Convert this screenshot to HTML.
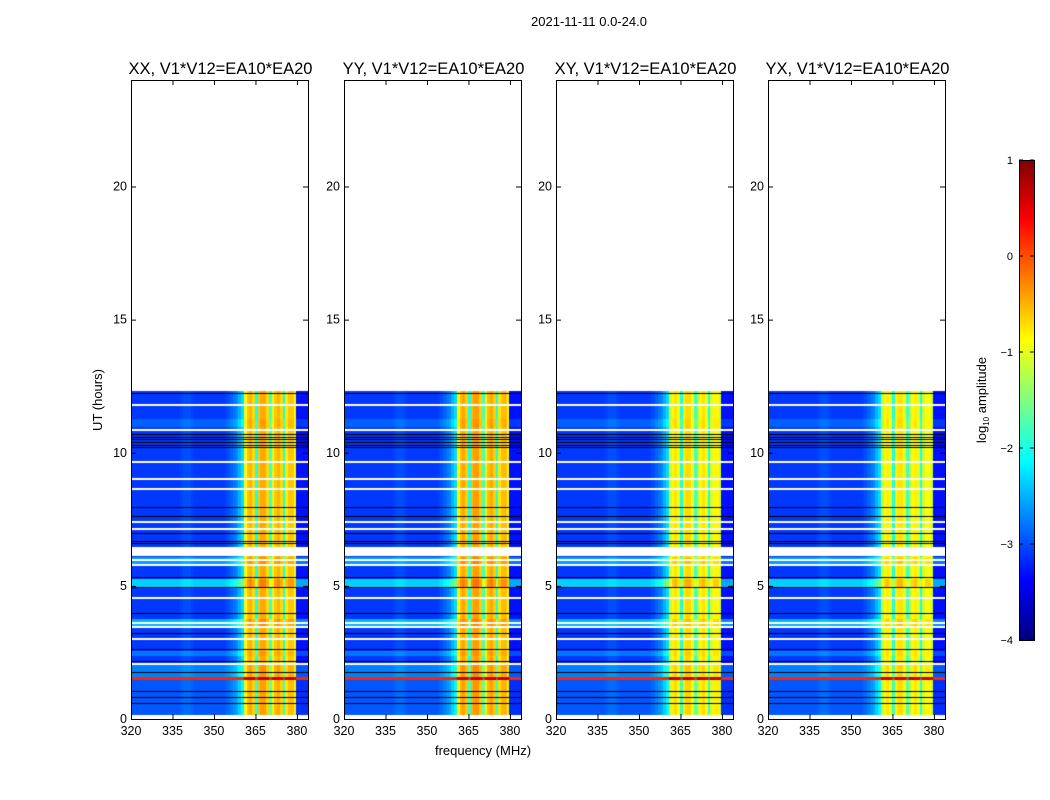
<!DOCTYPE html>
<html><head><meta charset="utf-8"><style>
body{margin:0;background:#fff;width:1050px;height:800px;overflow:hidden;font-family:"Liberation Sans",sans-serif}
#wrap{position:relative;width:1050px;height:800px}
canvas{position:absolute}
</style></head><body>
<div id="wrap">
<svg id="svg" width="1050" height="800" style="position:absolute;left:0;top:0"></svg>
</div>
<script>
// ---- data ----
const panelNames = ["XX, V1*V12=EA10*EA20","YY, V1*V12=EA10*EA20","XY, V1*V12=EA10*EA20","YX, V1*V12=EA10*EA20"];
const panelBandShift = [0, 0.05, -0.25, -0.3];
const freqStart = 320;            // MHz, 1 MHz bins
const freqLevel = [-3.1,-3.1,-3.1,-3.1,-3.1,-3.1,-3.1,-3.1,-3.1,-3.1,-3.1,-3.1,-3.1,-3.1,-3.1,-3.1,
 -3.1,-3.1,-3.05,-3.0,-3.0,-3.0,-3.05,-3.1,-3.1,-3.1,-3.1,-3.1,-3.1,-3.1,-3.1,-3.1,
 -3.1,-3.1,-3.05,-3.0,-2.9,-2.8,-2.7,-2.5,-2.3,-0.9,-0.6,-0.5,-0.7,-2.0,-0.6,-0.45,
 -0.45,-0.7,-1.8,-1.0,-0.6,-0.5,-0.7,-2.0,-0.8,-0.6,-0.6,-0.9,-3.3,-3.3,-3.3,-3.3];
const dataEndHour = 12.3;
const rowStep = 0.1;
const brightSegments = [[5.0,5.3,0.75],[3.5,3.75,0.6],[5.75,6.1,0.5],[2.4,2.6,0.3],[11.0,11.3,0.2],[1.6,2.1,0.35],[0,1.45,0.15]];
const redLine = [1.5,1.6];
const whiteLines = [0.1,2.07,3.0,3.45,3.6,4.54,5.78,5.97,7.15,7.4,8.63,9.0,9.65,10.85,11.8];
const whiteBlocks = [[0,0.15],[6.12,6.46]];
const blackLines = [0.6,0.83,1.05,1.77,2.18,2.63,3.22,4.0,4.96,5.33,6.6,6.7,7.0,7.62,7.96,10.2,10.3,10.4,10.5,10.6,10.7,12.25];
const yTicks = [0,5,10,15,20];
const xTicks = [320,335,350,365,380];
const cbTicks = [1,0,-1,-2,-3,-4];

// ---- layout ----
const panelX = [131,344,556,768], panelW = 177, panelTop = 80, panelBot = 719;
const yScale = h => panelBot - h/24*(panelBot-panelTop);
const xScale = (px0,f) => px0 + (f-320)/64*panelW;
const vmin=-4, vmax=1;
function jet(v){
  let t=(v-vmin)/(vmax-vmin); t=Math.max(0,Math.min(1,t));
  const c=x=>Math.max(0,Math.min(1,x));
  const r=c(1.5-Math.abs(4*t-3)), g=c(1.5-Math.abs(4*t-2)), b=c(1.5-Math.abs(4*t-1));
  return `rgb(${Math.round(r*255)},${Math.round(g*255)},${Math.round(b*255)})`;
}
const NS="http://www.w3.org/2000/svg";
const svg=document.getElementById('svg');
function el(tag,attrs,parent){const e=document.createElementNS(NS,tag);for(const k in attrs)e.setAttribute(k,attrs[k]);(parent||svg).appendChild(e);return e;}
function txt(x,y,s,size,anchor,parent){const t=el('text',{x:x,y:y,'font-size':size,'text-anchor':anchor||'middle','font-family':'Liberation Sans, sans-serif',fill:'#000'},parent);t.textContent=s;return t;}

const wrap=document.getElementById('wrap');
panelNames.forEach((name,p)=>{
  const x0=panelX[p];
  const cv=document.createElement('canvas');
  
  
  cv.width=panelW; cv.height=panelBot-panelTop;
  cv.style.left=x0+'px'; cv.style.top=panelTop+'px';
  wrap.insertBefore(cv,svg);
  const ctx=cv.getContext('2d');
  const nRows=Math.round(dataEndHour/rowStep);
  for(let r=0;r<nRows;r++){
    const t0=r*rowStep, t1=t0+rowStep;
    let off=0;
    brightSegments.forEach(s=>{if(t0>=s[0]-1e-6&&t0<s[1])off+=s[2];});
    const red = t0>=redLine[0]-1e-6 && t0<redLine[1];
    const yA=yScale(t1)-panelTop, yB=yScale(t0)-panelTop;
    for(let i=0;i<freqLevel.length;i++){
      const f=freqStart+i;
      const inBand=freqLevel[i]>-1.5;
      let v=freqLevel[i]+(inBand?panelBandShift[p]+off*0.3:off);
      if(red) v = inBand?0.7:0.2;
      ctx.fillStyle=jet(v);
      const xa=xScale(0,f), xb=xScale(0,f+1);
      ctx.fillRect(Math.floor(xa),Math.floor(yA),Math.ceil(xb-xa)+1,Math.ceil(yB-yA)+1);
    }
  }
  blackLines.forEach(h=>{ctx.fillStyle='#000';ctx.fillRect(0,Math.round(yScale(h)-panelTop),panelW,1);});
  whiteLines.forEach(h=>{ctx.fillStyle='#fff';ctx.fillRect(0,Math.round(yScale(h)-panelTop)-1,panelW,2);});
  whiteBlocks.forEach(b=>{ctx.fillStyle='#fff';const ya=Math.round(yScale(b[1])-panelTop),yb=Math.round(yScale(b[0])-panelTop);ctx.fillRect(0,ya,panelW,yb-ya);});

  const g=el('g',{});
  
  
  const frame=el('rect',{x:x0+0.5,y:panelTop+0.5,width:panelW,height:panelBot-panelTop,fill:'none',stroke:'#000','stroke-width':1},g);
  
  
  const title=txt(x0+panelW/2+1,74,name,16.5,'middle',g);
  
  
  yTicks.forEach(v=>{
    const y=yScale(v);
    el('line',{x1:x0,x2:x0+5,y1:y+0.5,y2:y+0.5,stroke:'#000'},g);
    el('line',{x1:x0+panelW-5,x2:x0+panelW,y1:y+0.5,y2:y+0.5,stroke:'#000'},g);
    const l=txt(x0-4,y+4,String(v),12.5,'end',g);
    
    
  });
  xTicks.forEach(v=>{
    const x=xScale(x0,v);
    el('line',{x1:x+0.5,x2:x+0.5,y1:panelBot,y2:panelBot-5,stroke:'#000'},g);
    el('line',{x1:x+0.5,x2:x+0.5,y1:panelTop,y2:panelTop+5,stroke:'#000'},g);
    const l=txt(x,735,String(v),12.5,'middle',g);
    
    
  });
});
const st=txt(589,26,'2021-11-11 0.0-24.0',13);


const xl=txt(483,755,'frequency (MHz)',13);


const yl=txt(0,0,'UT (hours)',13);
yl.setAttribute('transform','translate(102,400) rotate(-90)');



// colorbar
const cbX=1019,cbW=15,cbTop=160,cbBot=640;
const cbScale=v=>cbBot-(v-vmin)/(vmax-vmin)*(cbBot-cbTop);
const cb=el('g',{});


for(let y=cbTop;y<cbBot;y++){
  const v=vmax-(y-cbTop+0.5)/(cbBot-cbTop)*(vmax-vmin);
  el('rect',{x:cbX,y:y,width:cbW,height:1.2,fill:jet(v)},cb);
}
el('rect',{x:cbX+0.5,y:cbTop+0.5,width:cbW,height:cbBot-cbTop,fill:'none',stroke:'#000'},cb);
cbTicks.forEach(v=>{
  const y=cbScale(v);
  el('line',{x1:cbX,x2:cbX+4,y1:y,y2:y,stroke:'#000'},cb);
  el('line',{x1:cbX+cbW-4,x2:cbX+cbW,y1:y,y2:y,stroke:'#000'},cb);
  const l=txt(1013,y+4,(v<0?'\u2212':'')+Math.abs(v),11,'end',cb);
  
  
});
const cl=el('text',{transform:'translate(986,400) rotate(-90)','font-size':13,'text-anchor':'middle','font-family':'Liberation Sans, sans-serif'},cb);
cl.innerHTML='log<tspan font-size="8" dy="3">10</tspan><tspan dy="-3"> amplitude</tspan>';


</script>
</body></html>
